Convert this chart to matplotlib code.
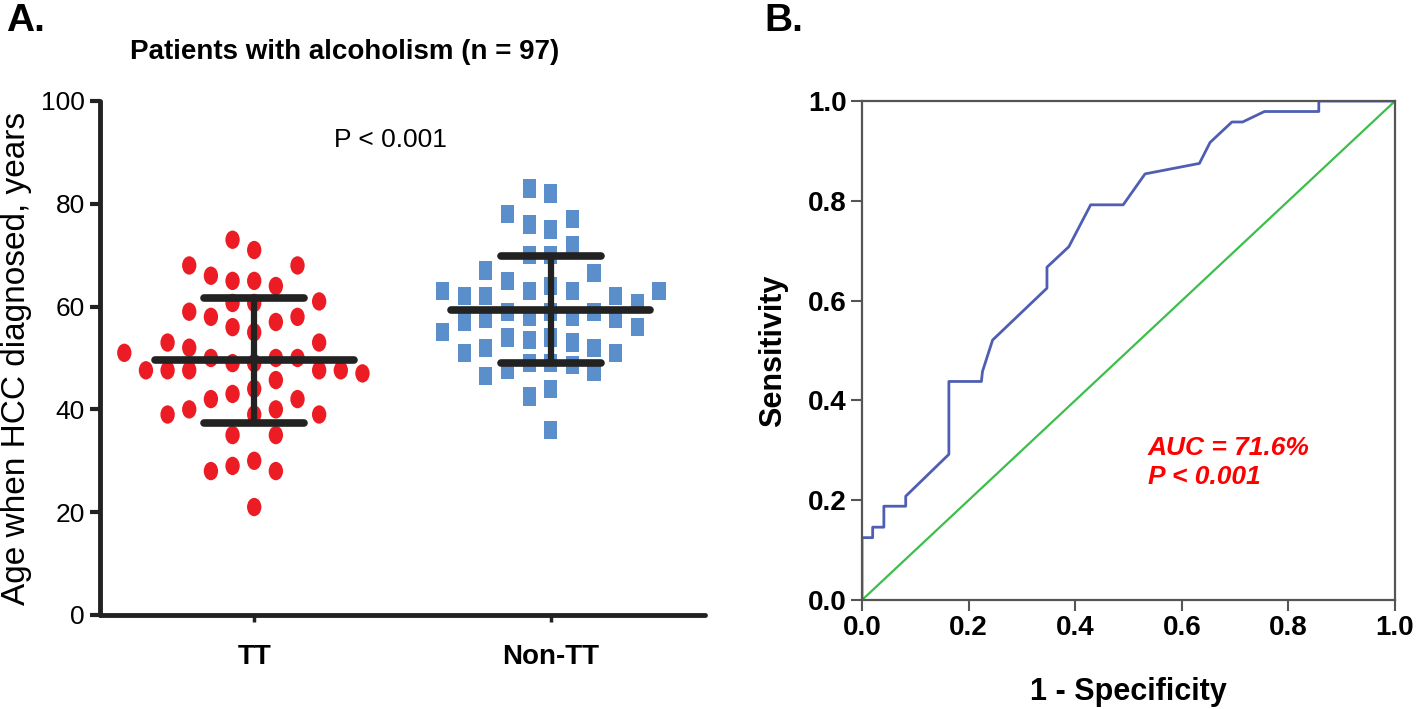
import matplotlib
matplotlib.use('Agg')
import matplotlib.pyplot as plt
import matplotlib.path as mpath
from matplotlib.transforms import Affine2D
import numpy as np

plt.rcParams['font.family'] = ['Liberation Sans', 'DejaVu Sans']

# ---- panel A data (age at HCC diagnosis, years) ----
groups = ['TT', 'Non-TT']
tt_age = [73, 71, 68, 68, 66, 65, 64, 65, 60.7, 61, 60.7, 59, 58, 56, 57, 58, 55,
          53, 51, 52, 53, 50, 49, 47, 47.6, 47.6, 47.6, 50, 47.6, 47.6, 45.7, 49,
          50, 44, 42, 42, 43, 40, 39, 39, 39, 40, 35, 35, 30, 28, 28, 29, 21]
nontt_age = [82, 83, 78, 77, 76, 75, 72, 70, 70,
             64, 59, 53, 63, 57.6, 52, 63, 56, 51, 46.5, 67, 62, 54, 49, 44,
             66.5, 60.7, 58, 54, 47.7, 42.5, 36, 65, 53.5, 62, 55, 47.3,
             62, 57, 48.6, 63, 57.6, 51, 63, 59, 52, 59, 58, 49]

# ---- panel B data (ROC curve) ----
fpr = [0, 0, 0.020, 0.020, 0.041, 0.041, 0.082, 0.082, 0.163, 0.163, 0.224, 0.226,
       0.245, 0.347, 0.347, 0.388, 0.429, 0.490, 0.531, 0.633, 0.653, 0.694, 0.714,
       0.755, 0.857, 0.857, 1.0]
tpr = [0, 0.125, 0.125, 0.146, 0.146, 0.188, 0.188, 0.208, 0.292, 0.438, 0.438, 0.458,
       0.521, 0.625, 0.667, 0.708, 0.792, 0.792, 0.854, 0.875, 0.917, 0.958, 0.958,
       0.979, 0.979, 1.0, 1.0]


def swarm(vals, gap, step):
    # simple column swarm: put each point in the nearest column where it does not collide
    vals = np.asarray(vals, float)
    order = np.argsort(np.abs(vals - np.median(vals)))
    cand = [0]
    for k in range(1, 10):
        cand += [-k, k]
    placed = []
    off = np.zeros(len(vals))
    for i in order:
        for s in cand:
            if all(abs(vals[i] - pv) >= gap for ps, pv in placed if ps == s):
                placed.append((s, vals[i]))
                off[i] = s * step
                break
    return off


fig = plt.figure(figsize=(14.18, 7.09), dpi=100)

# ---------------- panel A ----------------
ax = fig.add_axes([0.0705, 0.1326, 0.4267, 0.725])
ellipse = mpath.Path.unit_circle().transformed(Affine2D().scale(0.78, 1.0))
rect = mpath.Path([(-0.72, -1), (0.72, -1), (0.72, 1), (-0.72, 1), (-0.72, -1)],
                  [1, 2, 2, 2, 79])
step = 0.073
for i, (vals, mk, col) in enumerate([(tt_age, ellipse, '#EC1C24'),
                                     (nontt_age, rect, '#5B8FCB')]):
    xs = i + swarm(vals, 4.2, step)
    ax.scatter(xs, vals, marker=mk, s=175, color=col, edgecolors='none', zorder=2)
    m = np.mean(vals)
    sd = np.std(vals, ddof=1)
    lc = ax.hlines(m, i - 0.335, i + 0.335, color='#222222', lw=5.5, zorder=3)
    lc.set_capstyle('round')
    lc = ax.hlines([m - sd, m + sd], i - 0.168, i + 0.168, color='#222222', lw=5.5, zorder=3)
    lc.set_capstyle('round')
    ax.vlines(i, m - sd, m + sd, color='#222222', lw=4.5, zorder=3)

ax.set_xlim(-0.52, 1.52)
ax.set_ylim(0, 100)
ax.set_yticks([0, 20, 40, 60, 80, 100])
ax.set_xticks([0, 1])
ax.set_xticklabels(groups, fontsize=20, fontweight='bold')
ax.tick_params(axis='y', labelsize=19, width=3, length=7, pad=4, color='#222222')
ax.tick_params(axis='x', width=2.5, length=5, pad=16, color='#222222')
for sp in ['top', 'right']:
    ax.spines[sp].set_visible(False)
for sp in ['left', 'bottom']:
    ax.spines[sp].set_linewidth(3.5)
    ax.spines[sp].set_color('#222222')
    ax.spines[sp].set_capstyle('round')
ax.set_ylabel('Age when HCC diagnosed, years', fontsize=24, labelpad=6)
ax.text(0.46, 92.5, 'P < 0.001', fontsize=19, ha='center', va='center')

fig.text(0.2433, 0.927, 'Patients with alcoholism (n = 97)', fontsize=20,
         fontweight='bold', ha='center', va='center')
fig.text(0.004, 0.97, 'A.', fontsize=28, fontweight='bold', va='center')
fig.text(0.539, 0.97, 'B.', fontsize=28, fontweight='bold', va='center')

# ---------------- panel B ----------------
bx = fig.add_axes([0.6079, 0.1537, 0.3759, 0.7038])
bx.plot([0, 1], [0, 1], color='#3CBF4A', lw=1.6)
bx.plot(fpr, tpr, color='#4F5EB2', lw=2.0)
bx.set_xlim(0, 1)
bx.set_ylim(0, 1)
ticks = [0, 0.2, 0.4, 0.6, 0.8, 1.0]
bx.set_xticks(ticks)
bx.set_yticks(ticks)
bx.set_xticklabels(['%.1f' % t for t in ticks], fontsize=20, fontweight='bold')
bx.set_yticklabels(['%.1f' % t for t in ticks], fontsize=20, fontweight='bold')
bx.tick_params(width=1.5, length=8, color='#555555', pad=3)
for sp in bx.spines.values():
    sp.set_linewidth(1.6)
    sp.set_color('#555555')
bx.set_xlabel('1 - Specificity', fontsize=22, fontweight='bold', labelpad=26)
bx.set_ylabel('Sensitivity', fontsize=22, fontweight='bold', labelpad=14)
bx.text(0.536, 0.276, 'AUC = 71.6%\nP < 0.001', color='#FF0000', fontsize=19,
        fontweight='bold', fontstyle='italic', ha='left', va='center', linespacing=1.25)

fig.savefig('out.png', dpi=100)
